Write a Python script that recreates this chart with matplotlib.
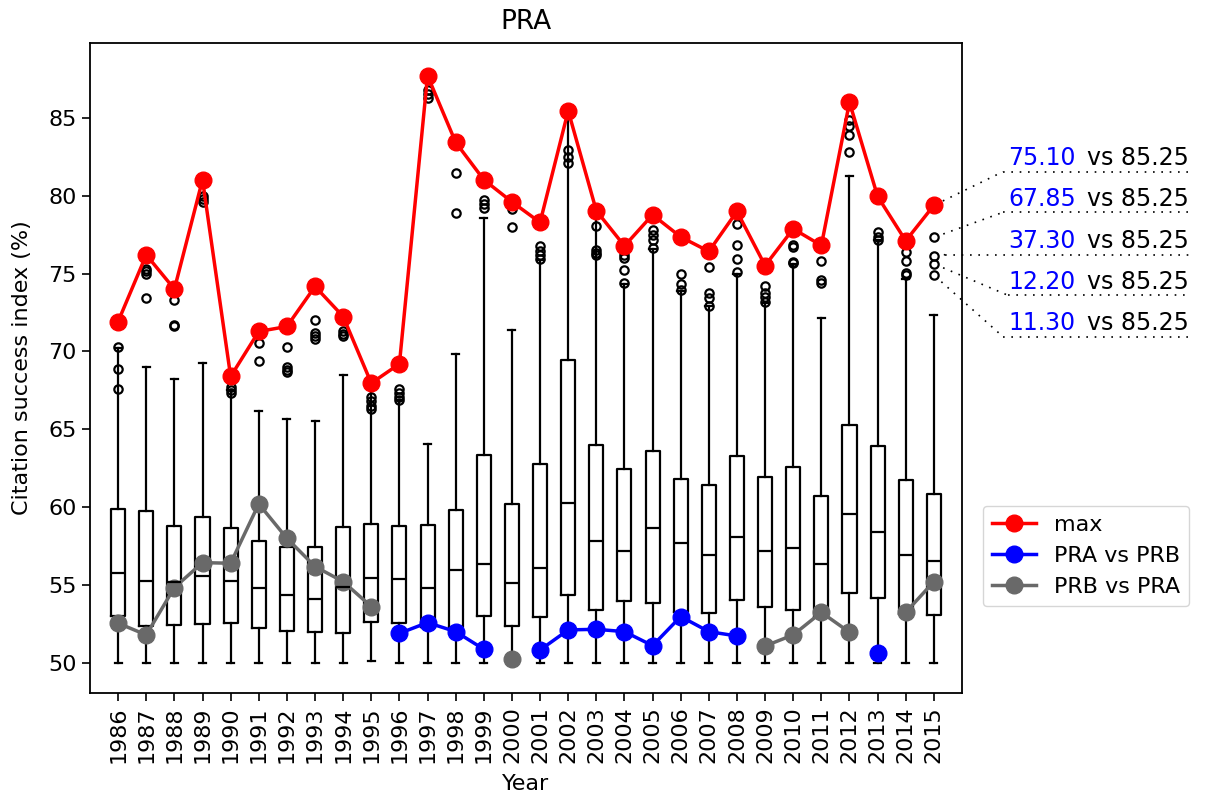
import numpy as np
import matplotlib
matplotlib.use("Agg")
import matplotlib.pyplot as plt
from matplotlib.lines import Line2D

nan = np.nan
years = list(range(1986, 2016))

# box statistics
q1 = [53.04, 52.40, 52.42, 52.50, 52.59, 52.23, 52.06, 51.97, 51.90, 52.61,
      52.55, 52.33, 52.29, 53.04, 52.36, 52.95, 54.37, 53.42, 54.00, 53.87,
      53.25, 53.23, 54.05, 53.60, 53.38, 52.98, 54.47, 54.15, 53.15, 53.06]
med = [55.80, 55.29, 55.22, 55.59, 55.29, 54.79, 54.37, 54.13, 54.86, 55.44,
       55.40, 54.84, 55.97, 56.36, 55.12, 56.08, 60.25, 57.86, 57.19, 58.65,
       57.69, 56.91, 58.11, 57.19, 57.36, 56.34, 59.57, 58.43, 56.91, 56.53]
q3 = [59.89, 59.78, 58.76, 59.35, 58.69, 57.81, 57.47, 57.45, 58.71, 58.90,
      58.76, 58.86, 59.83, 63.34, 60.19, 62.76, 69.44, 63.96, 62.46, 63.62,
      61.82, 61.45, 63.29, 61.95, 62.61, 60.73, 65.28, 63.90, 61.75, 60.83]
whislo = [50.0] * 9 + [50.1] + [50.0] * 20
whishi = [70.2, 68.97, 68.2, 69.25, 67.5, 66.16, 65.63, 65.52, 68.5, 67.9,
          66.9, 64.04, 69.84, 78.56, 71.39, 75.9, 85.45, 79.03, 74.34, 76.6,
          73.9, 72.9, 75.0, 73.1, 75.6, 72.14, 81.28, 77.15, 74.64, 72.31]
fliers = [
    [70.27, 68.86, 67.6],
    [75.3, 75.15, 75.0, 73.44],
    [73.27, 71.7, 71.6],
    [80.0, 79.8, 79.6],
    [67.7, 67.5, 67.3],
    [70.53, 69.4],
    [70.3, 69.0, 68.8, 68.7],
    [72.03, 71.2, 71.0, 70.8],
    [71.3, 71.1, 70.96],
    [67.1, 66.8, 66.5, 66.3],
    [67.6, 67.3, 67.1, 66.9],
    [86.8, 86.55, 86.3],
    [81.45, 78.88],
    [79.7, 79.45, 79.2],
    [79.16, 78.0],
    [76.74, 76.45, 76.2, 75.95],
    [82.95, 82.5, 82.1],
    [78.03, 76.5, 76.35, 76.2],
    [76.2, 76.0, 75.2, 74.39],
    [77.8, 77.49, 77.17, 76.63],
    [77.2, 74.96, 74.34, 73.95],
    [75.45, 73.74, 73.42, 72.93],
    [78.2, 76.85, 75.95, 75.09],
    [74.17, 73.74, 73.49, 73.2],
    [76.85, 76.7, 75.77, 75.67],
    [75.82, 74.6, 74.4],
    [84.87, 84.44, 83.87, 82.8],
    [77.66, 77.34, 77.13],
    [76.38, 75.82, 75.03, 74.9],
    [77.32, 76.14, 75.62, 74.9],
]

max_vals = [71.92, 76.2, 74.0, 81.02, 68.39, 71.28, 71.6, 74.17, 72.24, 67.96,
            69.2, 87.7, 83.42, 81.02, 79.6, 78.28, 85.45, 79.03, 76.77, 78.77,
            77.35, 76.42, 78.99, 75.51, 77.87, 76.8, 86.0, 79.95, 77.1, 79.38]
pra_vs_prb = [nan] * 10 + [51.9, 52.59, 52.01, 50.88, nan, 50.83, 52.12, 52.16,
              52.01, 51.11, 52.98, 52.01, 51.73, nan, nan, nan, nan, 50.62, nan, nan]
prb_vs_pra = [52.55, 51.80, 54.84, 56.44, 56.40, 60.21, 58.0, 56.19, 55.22, 53.62,
              nan, nan, nan, nan, 50.23, nan, nan, nan, nan, nan,
              nan, nan, nan, 51.09, 51.8, 53.25, 51.97, nan, 53.25, 55.22]

# notes on the right, each tied to a value of the last year
note_nums = ["75.10", "67.85", "37.30", "12.20", "11.30"]
note_ref = "vs 85.25"
note_anchor = [79.38, 77.32, 76.14, 75.62, 74.9]

W, H = 1211, 800
fig = plt.figure(figsize=(W / 100, H / 100), dpi=100)
ax = fig.add_axes([90 / W, 1 - 693 / H, (962 - 90) / W, (693 - 43) / H])

pos = np.arange(1, len(years) + 1)
stats = []
for i in range(len(years)):
    stats.append(dict(med=med[i], q1=q1[i], q3=q3[i], whislo=whislo[i],
                      whishi=whishi[i], fliers=fliers[i]))

lw = 1.6
ax.bxp(stats, positions=pos, widths=0.5,
       boxprops=dict(color="black", linewidth=lw),
       whiskerprops=dict(color="black", linewidth=lw),
       capprops=dict(color="black", linewidth=lw),
       medianprops=dict(color="black", linewidth=lw),
       flierprops=dict(marker="o", markerfacecolor="none", markeredgecolor="black",
                       markersize=6, markeredgewidth=1.6))

ax.plot(pos, max_vals, "-o", color="red", lw=2.5, ms=12, label="max")
ax.plot(pos, pra_vs_prb, "-o", color="blue", lw=2.5, ms=12, label="PRA vs PRB")
ax.plot(pos, prb_vs_pra, "-o", color="dimgray", lw=2.5, ms=12, label="PRB vs PRA")

ax.set_xlim(0, 31)
ax.set_ylim(48.07, 89.8)
ax.set_xticks(pos)
ax.set_xticklabels([str(y) for y in years], rotation=90)
ax.set_yticks([50, 55, 60, 65, 70, 75, 80, 85])
ax.tick_params(labelsize=16, length=6, width=1.2)
for s in ax.spines.values():
    s.set_linewidth(1.3)
ax.set_xlabel("Year", fontsize=16, labelpad=8)
ax.set_ylabel("Citation success index (%)", fontsize=16, labelpad=12)
ax.set_title("PRA", fontsize=19, pad=10)

ax.legend(loc="upper left", bbox_to_anchor=(983 / W, 1 - 506 / H),
          bbox_transform=fig.transFigure, borderaxespad=0, fontsize=16)

# annotations: dotted leader from the point, then dotted underline under the text
text_base = [165, 206.5, 248, 289.3, 330]
under_y = [171.7, 212.3, 254.7, 295.3, 336.7]
under_x0 = [1003, 1003, 945, 1008, 1003]
dots = (0, (1, 4))
for k in range(len(note_nums)):
    px, py = ax.transData.transform((pos[-1], note_anchor[k]))
    x0, y0 = under_x0[k], H - under_y[k]
    # start the leader a little away from the marker
    d = np.hypot(x0 - px, y0 - py)
    sx, sy = px + (x0 - px) * 10 / d, py + (y0 - py) * 10 / d
    fig.add_artist(Line2D([sx / W, x0 / W], [sy / H, y0 / H], transform=fig.transFigure,
                          color="black", lw=1.2, linestyle=dots))
    fig.add_artist(Line2D([x0 / W, 1190 / W], [y0 / H, y0 / H], transform=fig.transFigure,
                          color="black", lw=1.2, linestyle=dots))
    fig.text(1076 / W, 1 - text_base[k] / H, note_nums[k], color="blue",
             fontsize=17, ha="right", va="baseline")
    fig.text(1087 / W, 1 - text_base[k] / H, note_ref, color="black",
             fontsize=17, ha="left", va="baseline")

fig.savefig("out.png", dpi=100)
